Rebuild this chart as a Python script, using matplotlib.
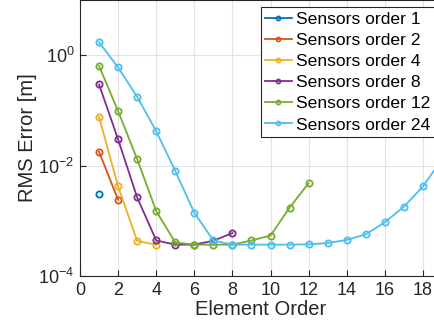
import matplotlib.pyplot as plt
from matplotlib.lines import Line2D

plt.rcParams['font.family'] = ['Liberation Sans', 'DejaVu Sans']

# RMS error vs element order, one series per sensors order
labels = ['Sensors order 1', 'Sensors order 2', 'Sensors order 4',
          'Sensors order 8', 'Sensors order 12', 'Sensors order 24']
colors = ['#0072BD', '#D95319', '#EDB120', '#7E2F8E', '#77AC30', '#4DBEEE']

x1 = [1]
y1 = [3.1e-3]
x2 = [1, 2]
y2 = [1.78e-2, 2.4e-3]
x4 = [1, 2, 3, 4]
y4 = [7.6e-2, 4.2e-3, 4.3e-4, 3.7e-4]
x8 = [1, 2, 3, 4, 5, 6, 7, 8]
y8 = [0.295, 2.98e-2, 2.65e-3, 4.4e-4, 3.7e-4, 3.7e-4, 4.35e-4, 6.0e-4]
x12 = [1, 2, 3, 4, 5, 6, 7, 8, 9, 10, 11, 12]
y12 = [0.64, 9.7e-2, 1.31e-2, 1.5e-3, 4.05e-4, 3.7e-4, 3.7e-4, 3.7e-4,
       4.4e-4, 5.4e-4, 1.73e-3, 4.8e-3]
x24 = [1, 2, 3, 4, 5, 6, 7, 8, 9, 10, 11, 12, 13, 14, 15, 16, 17, 18, 19, 20]
y24 = [1.72, 0.60, 0.176, 4.2e-2, 8.0e-3, 1.4e-3, 4.4e-4, 3.7e-4, 3.7e-4,
       3.7e-4, 3.7e-4, 3.75e-4, 3.95e-4, 4.5e-4, 5.7e-4, 9.4e-4, 1.8e-3,
       4.2e-3, 1.3e-2, 4.5e-2]

xs = [x1, x2, x4, x8, x12, x24]
ys = [y1, y2, y4, y8, y12, y24]

fig = plt.figure(figsize=(4.35, 3.33), dpi=100)
# the original figure is cropped on the right, so the axes run past the edge
ax = fig.add_axes([80 / 435, 57 / 333, 362 / 435, 276 / 333])

for x, y, c in zip(xs, ys, colors):
    ax.plot(x, y, color=c, linewidth=1.3, marker='o', markersize=4.5,
            markerfacecolor='none', markeredgewidth=1.3)

ax.set_yscale('log')
ax.set_xlim(0, 19)
ax.set_ylim(1e-4, 10)
ax.set_xticks(range(0, 19, 2))
ax.set_yticks([1e-4, 1e-2, 1e0])
ax.minorticks_off()
ax.grid(True, color='#e3e3e3', linewidth=0.8)
ax.set_axisbelow(True)
ax.tick_params(direction='in', labelsize=13, colors='#262626', length=4, pad=4)
for s in ax.spines.values():
    s.set_color('#262626')
    s.set_linewidth(0.8)

ax.set_xlabel('Element Order', fontsize=14.5, color='#262626', labelpad=1)
ax.set_ylabel('RMS Error [m]', fontsize=14.5, color='#262626', labelpad=1)

handles = [Line2D([], [], color=c, linewidth=1.3, marker='o', markersize=3,
                  markerfacecolor='none', markeredgewidth=1.2) for c in colors]
leg = fig.legend(handles, labels, loc='upper left',
                 bbox_to_anchor=(261 / 435, 1 - 7 / 333), fontsize=12.6,
                 handlelength=1.5, handletextpad=0.25, labelspacing=0.34,
                 borderpad=0.25, borderaxespad=0, fancybox=False,
                 framealpha=1, edgecolor='#262626')
leg.get_frame().set_linewidth(0.8)

fig.savefig('out.png', dpi=100)
